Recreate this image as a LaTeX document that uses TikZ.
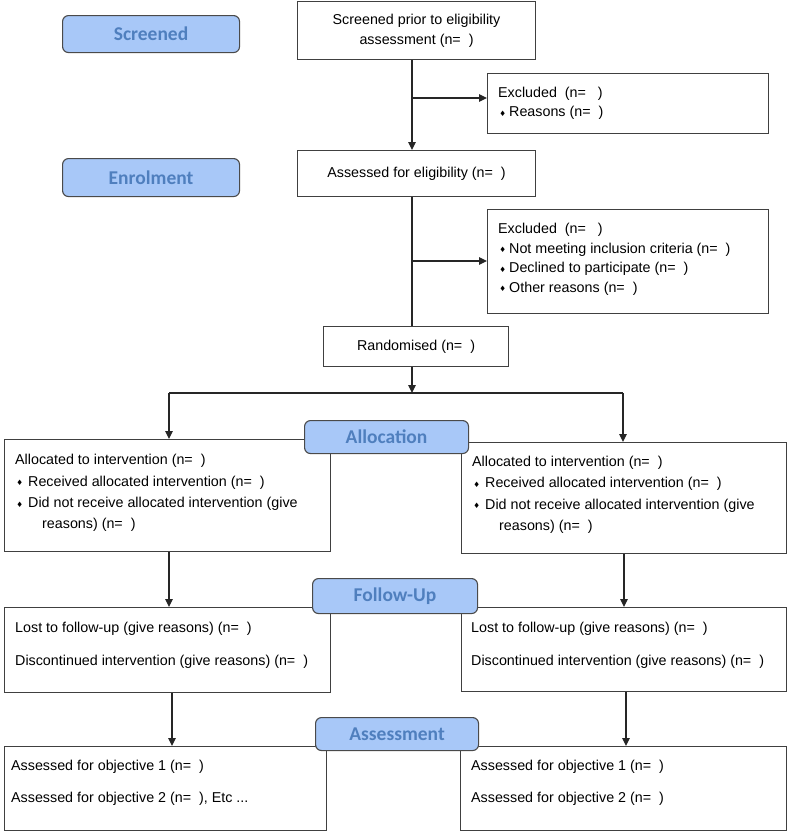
\documentclass[tikz,border=0pt]{standalone}
\usepackage{fontspec}
\setmainfont{Liberation Sans}
\newfontfamily\labfont{Carlito}
\newfontfamily\dvfont{DejaVu Sans}
\usetikzlibrary{arrows.meta,calc}
\definecolor{labfill}{HTML}{A8C8F8}
\definecolor{labtext}{HTML}{4F7FBE}
\definecolor{labdraw}{HTML}{4A4A4A}
\definecolor{boxdraw}{HTML}{404040}
\definecolor{linecol}{HTML}{262626}
\newcommand\fl{\rule{0pt}{11pt}}
\newcommand\bul[1][13pt]{\makebox[#1][l]{\hspace{1.2pt}\raisebox{0.3pt}{\dvfont\fontsize{7.5}{7.5}\selectfont ♦}}}
\tikzset{
  boxnode/.style={draw=boxdraw, line width=1.1pt, fill=white, inner sep=0pt, anchor=north west, font=\fontsize{14.3}{19.5}\selectfont},
  labnode/.style={draw=labdraw, line width=1.1pt, fill=labfill, rounded corners=6pt, inner sep=0pt, anchor=north west, text=labtext, font=\labfont\bfseries\fontsize{19.5}{22}\selectfont},
  txt/.style={inner sep=0pt, anchor=north west, align=left},
  conn/.style={draw=linecol, line width=1.1pt},
  arr/.style={conn, -{Triangle[length=8pt,width=7.5pt]}}
}
\begin{document}
\begin{tikzpicture}[x=1pt,y=-1pt]
\useasboundingbox (0,0) rectangle (787,831);
% main boxes
\node[boxnode, minimum width=238pt, minimum height=58pt, align=center] (box1) at (297,1) {Screened prior to eligibility\\assessment (n=\ \ )};
\node[boxnode, minimum width=281pt, minimum height=60pt] (exc1) at (487,73) {};
\node[boxnode, minimum width=238pt, minimum height=46pt] (box2) at (297,150) {Assessed for eligibility (n=\ \ )};
\node[boxnode, minimum width=281pt, minimum height=104pt] (exc2) at (487,209) {};
\node[boxnode, minimum width=185pt, minimum height=40pt] (rand) at (323,326) {Randomised (n=\ \ )};
\node[boxnode, minimum width=326pt, minimum height=112pt] (allocL) at (4,439) {};
\node[boxnode, minimum width=325pt, minimum height=111pt] (allocR) at (461,442) {};
\node[boxnode, minimum width=326pt, minimum height=85pt] (folL) at (4,607) {};
\node[boxnode, minimum width=325pt, minimum height=84pt] (folR) at (461,607) {};
\node[boxnode, minimum width=322pt, minimum height=84pt] (assL) at (4,746) {};
\node[boxnode, minimum width=326pt, minimum height=84pt] (assR) at (460,746) {};
% texts
\node[txt, font=\fontsize{14.3}{19.5}\selectfont] (exc1t) at (498,86) {\fl Excluded\ \ (n=\ \ \ )\\\bul[11pt]Reasons (n=\ \ )};
\node[txt, font=\fontsize{14.3}{19.5}\selectfont] (exc2t) at (498,222.5) {\fl Excluded\ \ (n=\ \ \ )\\\bul[11pt]Not meeting inclusion criteria (n=\ \ )\\\bul[11pt]Declined to participate (n=\ \ )\\\bul[11pt]Other reasons (n=\ \ )};
\node[txt, font=\fontsize{14.3}{21.3}\selectfont] (allocLt) at (15,453.5) {\fl Allocated to intervention (n=\ \ )\\\bul Received allocated intervention (n=\ \ )\\\bul Did not receive allocated intervention (give\\\hspace*{27pt}reasons) (n=\ \ )};
\node[txt, font=\fontsize{14.3}{21.5}\selectfont] (allocRt) at (472,455) {\fl Allocated to intervention (n=\ \ )\\\bul Received allocated intervention (n=\ \ )\\\bul Did not receive allocated intervention (give\\\hspace*{27pt}reasons) (n=\ \ )};
\node[txt, font=\fontsize{14.3}{33}\selectfont] (folLt) at (15,621.5) {\fl Lost to follow-up (give reasons) (n=\ \ )\\Discontinued intervention (give reasons) (n=\ \ )};
\node[txt, font=\fontsize{14.3}{33}\selectfont] (folRt) at (471,621.5) {\fl Lost to follow-up (give reasons) (n=\ \ )\\Discontinued intervention (give reasons) (n=\ \ )};
\node[txt, font=\fontsize{14.3}{32}\selectfont] (assLt) at (11,759.5) {\fl Assessed for objective 1 (n=\ \ )\\Assessed for objective 2 (n=\ \ ), Etc ...};
\node[txt, font=\fontsize{14.3}{32}\selectfont] (assRt) at (471,759.5) {\fl Assessed for objective 1 (n=\ \ )\\Assessed for objective 2 (n=\ \ )};
% connectors
\coordinate (sp) at (412,0);
\draw[arr] (box1.south -| sp) -- (box2.north -| sp);
\coordinate (j1) at (412,98);
\draw[arr] (j1) -- (j1 -| exc1.west);
\draw[conn] (box2.south -| sp) -- (rand.north -| sp);
\coordinate (j2) at (412,261);
\draw[arr] (j2) -- (j2 -| exc2.west);
\coordinate (split) at (412,393);
\draw[arr] (rand.south -| sp) -- (split);
\coordinate (sl) at (169,393);
\coordinate (sr) at (623,393);
\draw[conn] (sl) -- (sr);
\draw[arr] (sl) -- (sl |- allocL.north);
\draw[arr] (sr) -- (sr |- allocR.north);
\coordinate (cl1) at (169,0);
\coordinate (cr1) at (624,0);
\coordinate (cl2) at (172,0);
\coordinate (cr2) at (626,0);
\draw[arr] (allocL.south -| cl1) -- (folL.north -| cl1);
\draw[arr] (allocR.south -| cr1) -- (folR.north -| cr1);
\draw[arr] (folL.south -| cl2) -- (assL.north -| cl2);
\draw[arr] (folR.south -| cr2) -- (assR.north -| cr2);
% stage labels
\node[labnode, minimum width=177pt, minimum height=37pt] (scr) at (62,15) {Screened};
\node[labnode, minimum width=177pt, minimum height=38pt] (enr) at (62,158) {Enrolment};
\node[labnode, minimum width=164pt, minimum height=33pt] (alc) at (304,420) {Allocation};
\node[labnode, minimum width=165pt, minimum height=35pt] (fol) at (312,578) {Follow-Up};
\node[labnode, minimum width=163pt, minimum height=33pt] (ass) at (315,717) {Assessment};
\end{tikzpicture}
\end{document}
